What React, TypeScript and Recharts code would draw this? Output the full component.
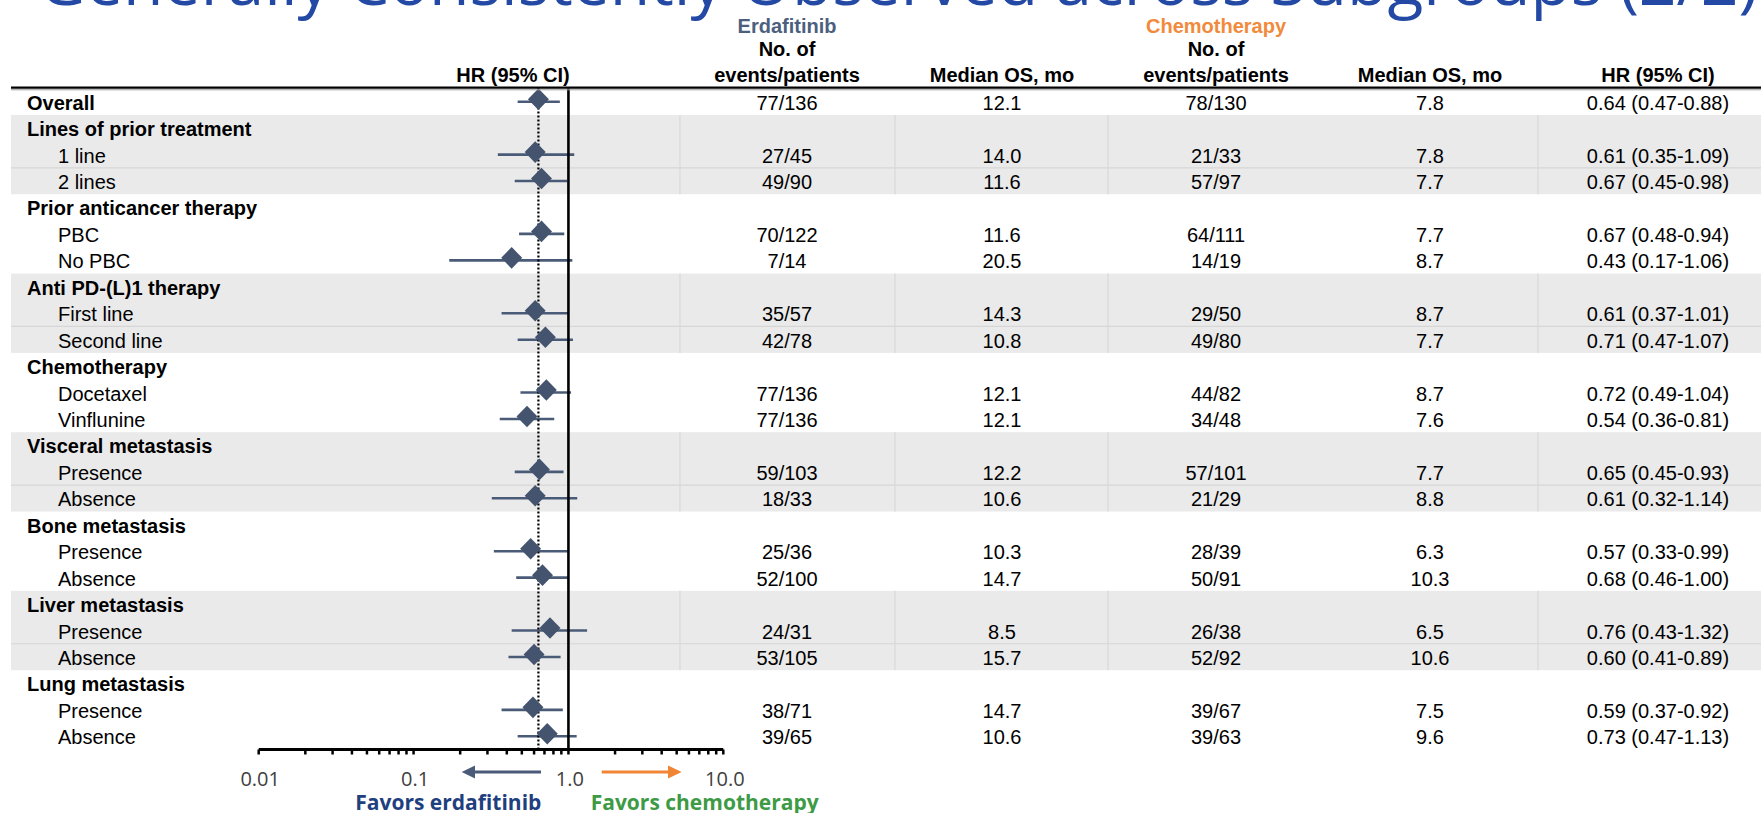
import React from 'react';
import { ComposedChart, Scatter, XAxis, YAxis, ErrorBar, ReferenceArea, ReferenceLine } from 'recharts';

const rowLabels = ['Overall', 'Lines of prior treatment', '1 line', '2 lines', 'Prior anticancer therapy', 'PBC', 'No PBC', 'Anti PD-(L)1 therapy', 'First line', 'Second line', 'Chemotherapy', 'Docetaxel', 'Vinflunine', 'Visceral metastasis', 'Presence', 'Absence', 'Bone metastasis', 'Presence', 'Absence', 'Liver metastasis', 'Presence', 'Absence', 'Lung metastasis', 'Presence', 'Absence'];
const rowIsHeader = [true, true, false, false, true, false, false, true, false, false, true, false, false, true, false, false, true, false, false, true, false, false, true, false, false];
const erdaEvents = ['77/136', '', '27/45', '49/90', '', '70/122', '7/14', '', '35/57', '42/78', '', '77/136', '77/136', '', '59/103', '18/33', '', '25/36', '52/100', '', '24/31', '53/105', '', '38/71', '39/65'];
const erdaMedian = ['12.1', '', '14.0', '11.6', '', '11.6', '20.5', '', '14.3', '10.8', '', '12.1', '12.1', '', '12.2', '10.6', '', '10.3', '14.7', '', '8.5', '15.7', '', '14.7', '10.6'];
const chemoEvents = ['78/130', '', '21/33', '57/97', '', '64/111', '14/19', '', '29/50', '49/80', '', '44/82', '34/48', '', '57/101', '21/29', '', '28/39', '50/91', '', '26/38', '52/92', '', '39/67', '39/63'];
const chemoMedian = ['7.8', '', '7.8', '7.7', '', '7.7', '8.7', '', '8.7', '7.7', '', '8.7', '7.6', '', '7.7', '8.8', '', '6.3', '10.3', '', '6.5', '10.6', '', '7.5', '9.6'];
const hrValues = [0.64, null, 0.61, 0.67, null, 0.67, 0.43, null, 0.61, 0.71, null, 0.72, 0.54, null, 0.65, 0.61, null, 0.57, 0.68, null, 0.76, 0.60, null, 0.59, 0.73];
const ciLow = [0.47, null, 0.35, 0.45, null, 0.48, 0.17, null, 0.37, 0.47, null, 0.49, 0.36, null, 0.45, 0.32, null, 0.33, 0.46, null, 0.43, 0.41, null, 0.37, 0.47];
const ciHigh = [0.88, null, 1.09, 0.98, null, 0.94, 1.06, null, 1.01, 1.07, null, 1.04, 0.81, null, 0.93, 1.14, null, 0.99, 1.00, null, 1.32, 0.89, null, 0.92, 1.13];
const shadedGroups = [[1, 3], [7, 9], [13, 15], [19, 21]];
const majorTicks = [0.01, 0.1, 1, 10];
const majorTickLabels = ['0.01', '0.1', '1.0', '10.0'];
const minorTicks = [0.02, 0.03, 0.04, 0.05, 0.06, 0.07, 0.08, 0.09, 0.2, 0.3, 0.4, 0.5, 0.6, 0.7, 0.8, 0.9, 2, 3, 4, 5, 6, 7, 8, 9];

const W = 1761;
const H = 813;
const TABLE_FONT = '"Liberation Sans", Arial, sans-serif';
const AXIS_FONT = '"Open Sans", "Noto Sans", sans-serif';
const SLATE = '#44546f';
const COL_X = [787, 1002, 1216, 1430, 1658];
const SEP_X = [680, 895, 1108, 1538];
const MARK_SHIFT = -2.5;

const fmt = (v: number) => v.toFixed(2);

const forestData = hrValues
  .map((hr, i) => (hr == null ? null : {
    x: hr,
    row: i,
    err: [hr - (ciLow[i] as number), (ciHigh[i] as number) - hr],
  }))
  .filter(Boolean);

const tableData = rowLabels.map((name, i) => ({
  x: 1,
  row: i,
  name,
  header: rowIsHeader[i],
  erdaEvents: erdaEvents[i],
  erdaMedian: erdaMedian[i],
  chemoEvents: chemoEvents[i],
  chemoMedian: chemoMedian[i],
  hrText: hrValues[i] == null ? '' : `${fmt(hrValues[i] as number)} (${fmt(ciLow[i] as number)}-${fmt(ciHigh[i] as number)})`,
}));

const Diamond = (props: any) => {
  const { cx } = props;
  if (cx == null || props.cy == null) return <g />;
  const cy = props.cy + MARK_SHIFT;
  const hw = 10.5;
  const hh = 10.8;
  return <polygon points={`${cx},${cy - hh} ${cx + hw},${cy} ${cx},${cy + hh} ${cx - hw},${cy}`} fill={SLATE} />;
};

const TableRow = (props: any) => {
  const { cy } = props;
  const p = props.payload || props;
  if (cy == null) return <g />;
  const ty = cy + 1;
  const common = { fontFamily: TABLE_FONT, fontSize: 20, fill: '#000', dominantBaseline: 'central' as any };
  return (
    <g>
      <text x={p.header ? 27 : 58} y={ty} {...common} fontWeight={p.header ? 700 : 400}>{p.name}</text>
      <text x={COL_X[0]} y={ty} textAnchor="middle" {...common}>{p.erdaEvents}</text>
      <text x={COL_X[1]} y={ty} textAnchor="middle" {...common}>{p.erdaMedian}</text>
      <text x={COL_X[2]} y={ty} textAnchor="middle" {...common}>{p.chemoEvents}</text>
      <text x={COL_X[3]} y={ty} textAnchor="middle" {...common}>{p.chemoMedian}</text>
      <text x={COL_X[4]} y={ty} textAnchor="middle" {...common}>{p.hrText}</text>
    </g>
  );
};

const Band = (props: any) => {
  const { y, height } = props;
  if (y == null || height == null) return <g />;
  const sepY = y + (height * 2) / 3;
  return (
    <g>
      <rect x={11} y={y} width={W - 11} height={height} fill="#eaeaea" />
      <line x1={11} x2={W} y1={sepY} y2={sepY} stroke="#d6d6d6" strokeWidth={1.2} />
      {SEP_X.map((sx) => (
        <line key={sx} x1={sx} x2={sx} y1={y} y2={y + height} stroke="#d8d8d8" strokeWidth={1.2} />
      ))}
    </g>
  );
};

const AxisTick = (props: any) => {
  const { x, y, payload } = props;
  const idx = majorTicks.indexOf(payload.value);
  if (idx < 0) return <g />;
  return (
    <text x={x + 1.5} y={y + 29} textAnchor="middle" fontFamily={AXIS_FONT} fontSize={20} fill="#404040">
      {majorTickLabels[idx]}
    </text>
  );
};

export default function App() {
  const headerBold = { fontFamily: TABLE_FONT, fontSize: 20, fontWeight: 700, fill: '#000', textAnchor: 'middle' as any };
  return (
    <div style={{ position: 'absolute', left: 0, top: 0, width: W, height: H, background: '#fff', overflow: 'hidden' }}>
      <ComposedChart width={W} height={H} margin={{ top: 88.5, right: W - 723.3, bottom: 0, left: 258.7 }}>
        <XAxis
          type="number"
          dataKey="x"
          scale="log"
          domain={[0.01, 10]}
          ticks={[...majorTicks, ...minorTicks].sort((a, b) => a - b)}
          interval={0}
          height={63.5}
          tickSize={5}
          axisLine={{ stroke: '#000', strokeWidth: 3 }}
          tickLine={{ stroke: '#000', strokeWidth: 2.5 }}
          tick={<AxisTick />}
        />
        <YAxis type="number" dataKey="row" domain={[-0.5, 24.5]} reversed hide />
        {shadedGroups.map(([a, b]) => (
          <ReferenceArea key={a} y1={a - 0.5} y2={b + 0.5} shape={<Band />} />
        ))}
        <Scatter data={tableData} shape={<TableRow />} isAnimationActive={false} />
        <Scatter data={forestData as any[]} shape={<Diamond />} isAnimationActive={false}>
          <ErrorBar dataKey="err" direction="x" width={0} offset={MARK_SHIFT} stroke="#4a5b78" strokeWidth={2.6} />
        </Scatter>
        <ReferenceLine x={1} stroke="#000" strokeWidth={2.6} />
        <ReferenceLine x={hrValues[0] as number} stroke="#000" strokeWidth={2.2} strokeDasharray="2 2" />
      </ComposedChart>
      <svg width={W} height={H} style={{ position: 'absolute', left: 0, top: 0, pointerEvents: 'none' }}>
        <text x={1758} y={5} textAnchor="end" fontFamily={AXIS_FONT} fontSize={66} fill="#2349a5">
          Generally Consistently Observed across Subgroups (2/2)
        </text>
        <text x={787} y={32.5} {...headerBold} fill="#4d5f7f">Erdafitinib</text>
        <text x={1216} y={32.5} {...headerBold} fill="#f28a3c">Chemotherapy</text>
        <text x={787} y={56} {...headerBold}>No. of</text>
        <text x={1216} y={56} {...headerBold}>No. of</text>
        <text x={513} y={81.5} {...headerBold}>HR (95% CI)</text>
        <text x={787} y={81.5} {...headerBold}>events/patients</text>
        <text x={1002} y={81.5} {...headerBold}>Median OS, mo</text>
        <text x={1216} y={81.5} {...headerBold}>events/patients</text>
        <text x={1430} y={81.5} {...headerBold}>Median OS, mo</text>
        <text x={1658} y={81.5} {...headerBold}>HR (95% CI)</text>
        <line x1={11} x2={W} y1={87.6} y2={87.6} stroke="#000" strokeWidth={2.4} />
        <line x1={11} x2={W} y1={89.8} y2={89.8} stroke="#9a9a9a" strokeWidth={1} />
        <line x1={474} x2={541} y1={772} y2={772} stroke="#4a5a78" strokeWidth={3} />
        <polygon points="461.7,772 475,765.5 475,778.5" fill="#4a5a78" />
        <line x1={601.7} x2={669} y1={772} y2={772} stroke="#f08535" strokeWidth={3} />
        <polygon points="681.7,772 668,765.5 668,778.5" fill="#f08535" />
        <text x={448.3} y={810} textAnchor="middle" fontFamily={AXIS_FONT} fontSize={21} fontWeight={700} fill="#1f3f7f">Favors erdafitinib</text>
        <text x={590.7} y={810} fontFamily={AXIS_FONT} fontSize={21} fontWeight={700} fill="#3d9a45">Favors chemotherapy</text>
      </svg>
    </div>
  );
}
